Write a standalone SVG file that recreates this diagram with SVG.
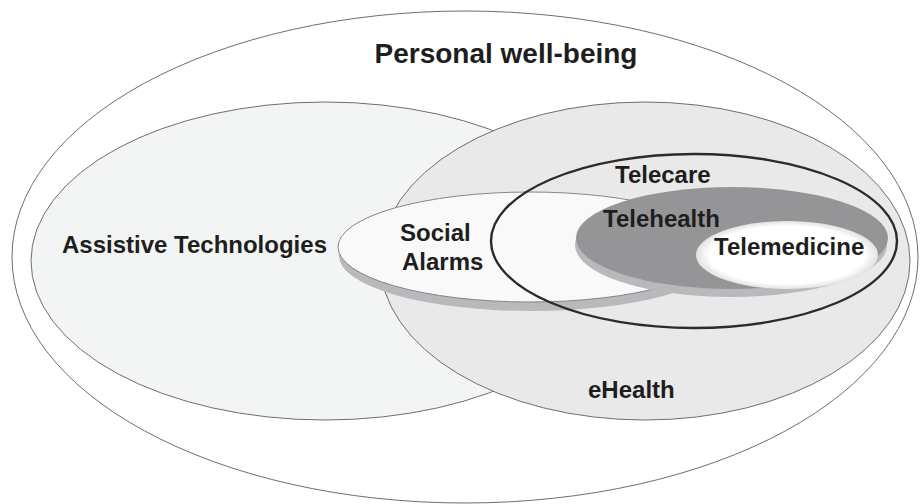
<svg xmlns="http://www.w3.org/2000/svg" width="920" height="504" viewBox="0 0 920 504">
<defs>
<style>
.lbl{font-family:"Liberation Sans",Arial,sans-serif;font-weight:bold;font-size:24px;fill:#1e1e1e}
.thin{stroke:#6e6e6e;stroke-width:1}
.shadow{fill:#b8b9bc;stroke:none}
</style>
<radialGradient id="tm" cx="0.5" cy="0.5" r="0.5">
<stop offset="0.85" stop-color="#ffffff"/>
<stop offset="1" stop-color="#e2e2e4"/>
</radialGradient>
</defs>
<rect width="920" height="504" fill="#ffffff"/>
<g id="personal-wellbeing">
<ellipse cx="465" cy="257" rx="453" ry="246" fill="#ffffff" class="thin"/>
<text class="lbl" x="506" y="63" text-anchor="middle" style="font-size:28px">Personal well-being</text>
</g>
<g id="assistive-technologies">
<ellipse cx="325" cy="261" rx="294" ry="159" fill="#f3f4f4" class="thin"/>
<text class="lbl" x="62" y="253">Assistive Technologies</text>
</g>
<g id="ehealth">
<ellipse cx="645" cy="261" rx="265" ry="159" fill="#e9e9ea" class="thin"/>
<text class="lbl" x="588" y="398">eHealth</text>
</g>
<g id="social-alarms">
<ellipse cx="531" cy="256" rx="192" ry="55" class="shadow"/>
<ellipse cx="530" cy="247" rx="192" ry="55" fill="#f9f9f9" stroke="#858585" stroke-width="1"/>
<text class="lbl" x="400" y="241">Social</text>
<text class="lbl" x="402" y="270">Alarms</text>
</g>
<g id="telehealth">
<ellipse cx="731" cy="245" rx="156" ry="52" class="shadow"/>
<ellipse cx="732" cy="238" rx="156" ry="51" fill="#959598"/>
<text class="lbl" x="603" y="227">Telehealth</text>
</g>
<g id="telemedicine">
<ellipse cx="787" cy="255" rx="91" ry="34" fill="url(#tm)"/>
<text class="lbl" x="714" y="255">Telemedicine</text>
</g>
<g id="telecare">
<ellipse cx="694" cy="241" rx="203" ry="87" fill="none" stroke="#2b2b2b" stroke-width="2.4"/>
<text class="lbl" x="615" y="183">Telecare</text>
</g>
<g id="connectors"/>
</svg>
